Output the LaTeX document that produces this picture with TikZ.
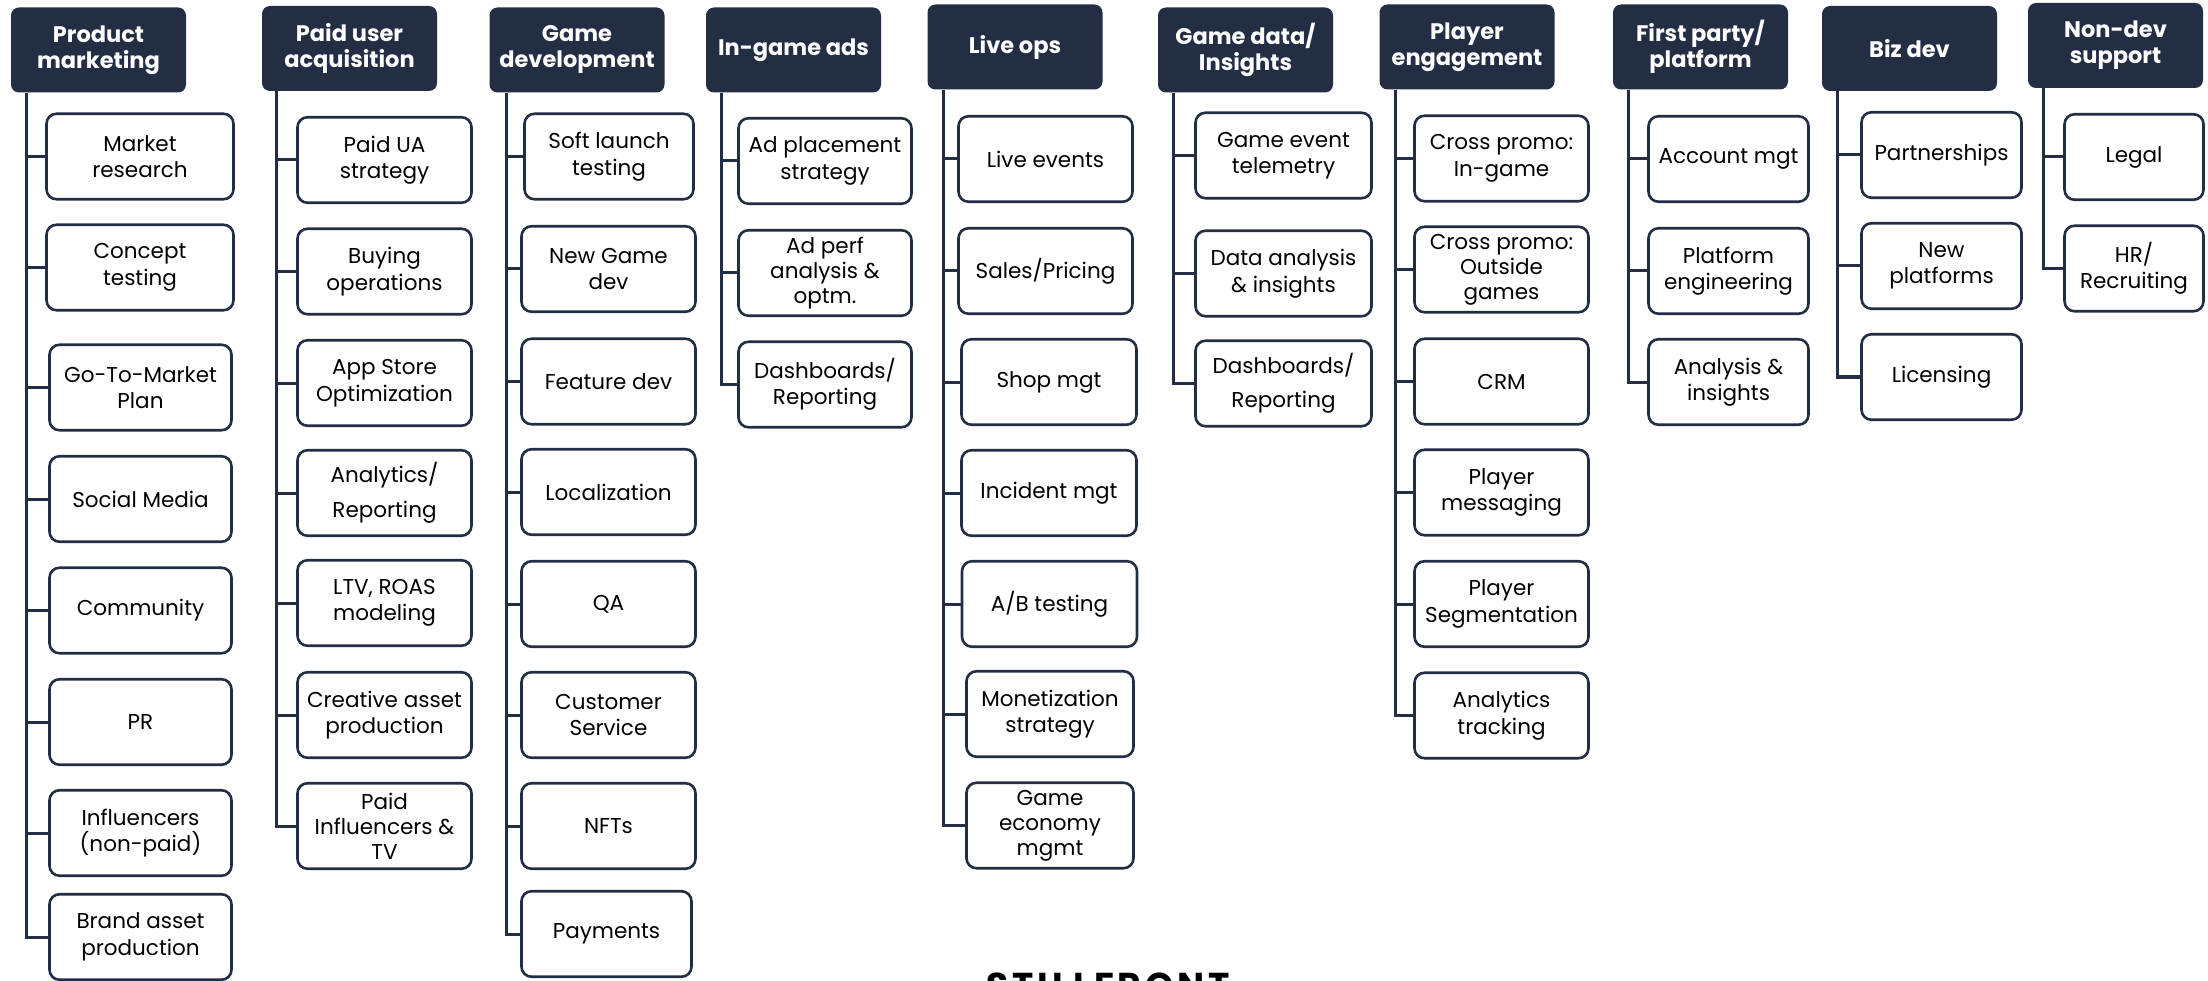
\documentclass[tikz,border=0pt]{standalone}
\usepackage{fontspec}
\setmainfont{Poppins}
\usetikzlibrary{calc}
\definecolor{navy}{HTML}{232E45}

\tikzset{
  x=1pt, y=-1pt,
  hdr/.style={fill=navy, draw=none, rounded corners=8pt, text=white,
    font=\bfseries\fontsize{22.5}{26}\selectfont, align=center, inner sep=0pt,
    minimum width=175pt, minimum height=85pt},
  kid/.style={draw=navy, line width=2.6pt, fill=white, rounded corners=10pt,
    text=black, font=\fontsize{21.5}{26.5}\selectfont, align=center,
    inner sep=0pt, minimum height=85.5pt},
  conn/.style={draw=navy, line width=3pt},
}

\begin{document}
\begin{tikzpicture}
\useasboundingbox (0,0) rectangle (2208,981);
\fill[white] (0,0) rectangle (2208,981);

% ---- headers ----
\node[hdr] (h1)  at (98.5,50)   {Product\\marketing};
\node[hdr] (h2)  at (349.5,48.5){Paid user\\acquisition};
\node[hdr] (h3)  at (577,50)    {Game\\development};
\node[hdr] (h4)  at (793.5,50)  {In-game ads};
\node[hdr] (h5)  at (1015,47)   {Live ops};
\node[hdr] (h6)  at (1245.5,50) {Game data/\\Insights};
\node[hdr] (h7)  at (1467,47)   {Player\\engagement};
\node[hdr] (h8)  at (1700.5,47) {First party/\\platform};
\node[hdr] (h9)  at (1909.5,48.5){Biz dev};
\node[hdr] (h10) at (2115.5,45.5){Non-dev\\support};

% ---- Product marketing ----
\node[kid, minimum width=187pt] (a1) at (140,156.5) {Market\\research};
\node[kid, minimum width=187pt] (a2) at (140,267.5) {Concept\\testing};
\node[kid, minimum width=182pt] (a3) at (140.5,387.5) {Go-To-Market\\Plan};
\node[kid, minimum width=182pt] (a4) at (140.5,499) {Social Media};
\node[kid, minimum width=182pt] (a5) at (140.5,610.5) {Community};
\node[kid, minimum width=182pt] (a6) at (140.5,722) {PR};
\node[kid, minimum width=182pt] (a7) at (140.5,833) {Influencers\\(non-paid)};
\node[kid, minimum width=182pt] (a8) at (140.5,937) {Brand asset\\production};

% ---- Paid user acquisition ----
\node[kid, minimum width=174pt] (b1) at (384.5,160) {Paid UA\\strategy};
\node[kid, minimum width=174pt] (b2) at (384.5,271.5) {Buying\\operations};
\node[kid, minimum width=174pt] (b3) at (384.5,383) {App Store\\Optimization};
\node[kid, minimum width=174pt] (b4) at (384.5,493) {Analytics/\\[8pt]Reporting};
\node[kid, minimum width=174pt] (b5) at (384.5,603) {LTV, ROAS\\modeling};
\node[kid, minimum width=174pt] (b6) at (384.5,715) {Creative asset\\production};
\node[kid, minimum width=174pt] (b7) at (384.5,826) {Paid\\[-1.5pt]Influencers \&\\[-1.5pt]TV};

% ---- Game development ----
\node[kid, minimum width=169pt] (c1) at (609,156.5) {Soft launch\\testing};
\node[kid, minimum width=174pt] (c2) at (608.5,269) {New Game\\dev};
\node[kid, minimum width=174pt] (c3) at (608.5,381.5) {Feature dev};
\node[kid, minimum width=174pt] (c4) at (608.5,492) {Localization};
\node[kid, minimum width=174pt] (c5) at (608.5,604) {QA};
\node[kid, minimum width=174pt] (c6) at (608.5,715) {Customer\\Service};
\node[kid, minimum width=174pt] (c7) at (608.5,826) {NFTs};
\node[kid, minimum width=170pt] (c8) at (606.5,934) {Payments};

% ---- In-game ads ----
\node[kid, minimum width=173pt] (d1) at (825,161) {Ad placement\\strategy};
\node[kid, minimum width=173pt] (d2) at (825,273) {Ad perf\\[-1.5pt]analysis \&\\[-1.5pt]optm.};
\node[kid, minimum width=173pt] (d3) at (825,384.5) {Dashboards/\\Reporting};

% ---- Live ops ----
\node[kid, minimum width=174pt] (e1) at (1045.5,159) {Live events};
\node[kid, minimum width=174pt] (e2) at (1045.5,271) {Sales/Pricing};
\node[kid, minimum width=175pt] (e3) at (1049,382) {Shop mgt};
\node[kid, minimum width=175pt] (e4) at (1049,493) {Incident mgt};
\node[kid, minimum width=175pt] (e5) at (1049.5,604) {A/B testing};
\node[kid, minimum width=167pt] (e6) at (1050,714) {Monetization\\strategy};
\node[kid, minimum width=167pt] (e7) at (1050,825.5) {Game\\[-1.5pt]economy\\[-1.5pt]mgmt};

% ---- Game data / Insights ----
\node[kid, minimum width=176pt] (f1) at (1283.5,155.5) {Game event\\telemetry};
\node[kid, minimum width=176pt] (f2) at (1283.5,273.5) {Data analysis\\\& insights};
\node[kid, minimum width=176pt] (f3) at (1283.5,383.5) {Dashboards/\\[8pt]Reporting};

% ---- Player engagement ----
\node[kid, minimum width=174pt] (g1) at (1501.5,158.5) {Cross promo:\\In-game};
\node[kid, minimum width=174pt] (g2) at (1501.5,269.5) {Cross promo:\\[-1.5pt]Outside\\[-1.5pt]games};
\node[kid, minimum width=174pt] (g3) at (1501.5,381.5) {CRM};
\node[kid, minimum width=174pt] (g4) at (1501.5,492.5) {Player\\messaging};
\node[kid, minimum width=174pt] (g5) at (1501.5,604) {Player\\Segmentation};
\node[kid, minimum width=174pt] (g6) at (1501.5,715.5) {Analytics\\tracking};

% ---- First party / platform ----
\node[kid, minimum width=160pt] (k1) at (1728.5,159) {Account mgt};
\node[kid, minimum width=160pt] (k2) at (1728.5,271) {Platform\\engineering};
\node[kid, minimum width=160pt] (k3) at (1728.5,382) {Analysis \&\\insights};

% ---- Biz dev ----
\node[kid, minimum width=160pt] (l1) at (1941.5,155) {Partnerships};
\node[kid, minimum width=160pt] (l2) at (1941.5,266) {New\\platforms};
\node[kid, minimum width=160pt] (l3) at (1941.5,377) {Licensing};

% ---- Non-dev support ----
\node[kid, minimum width=139pt] (n1) at (2134,157) {Legal};
\node[kid, minimum width=139pt] (n2) at (2134,268.5) {HR/\\Recruiting};

% ---- connectors: trunk from each header, branch to every box ----
\coordinate (t1)  at ($(h1.south west)+(16,0)$);
\coordinate (t2)  at ($(h2.south west)+(15,0)$);
\coordinate (t3)  at ($(h3.south west)+(17,0)$);
\coordinate (t4)  at ($(h4.south west)+(16,0)$);
\coordinate (t5)  at ($(h5.south west)+(16,0)$);
\coordinate (t6)  at ($(h6.south west)+(16,0)$);
\coordinate (t7)  at ($(h7.south west)+(16,0)$);
\coordinate (t8)  at ($(h8.south west)+(16,0)$);
\coordinate (t9)  at ($(h9.south west)+(16,0)$);
\coordinate (t10) at ($(h10.south west)+(16,0)$);

\draw[conn] (t1) |- (a8.west);
\foreach \k in {a1,a2,a3,a4,a5,a6,a7} \draw[conn] (t1 |- \k.west) -- (\k.west);
\draw[conn] (t2) |- (b7.west);
\foreach \k in {b1,b2,b3,b4,b5,b6} \draw[conn] (t2 |- \k.west) -- (\k.west);
\draw[conn] (t3) |- (c8.west);
\foreach \k in {c1,c2,c3,c4,c5,c6,c7} \draw[conn] (t3 |- \k.west) -- (\k.west);
\draw[conn] (t4) |- (d3.west);
\foreach \k in {d1,d2} \draw[conn] (t4 |- \k.west) -- (\k.west);
\draw[conn] (t5) |- (e7.west);
\foreach \k in {e1,e2,e3,e4,e5,e6} \draw[conn] (t5 |- \k.west) -- (\k.west);
\draw[conn] (t6) |- (f3.west);
\foreach \k in {f1,f2} \draw[conn] (t6 |- \k.west) -- (\k.west);
\draw[conn] (t7) |- (g6.west);
\foreach \k in {g1,g2,g3,g4,g5} \draw[conn] (t7 |- \k.west) -- (\k.west);
\draw[conn] (t8) |- (k3.west);
\foreach \k in {k1,k2} \draw[conn] (t8 |- \k.west) -- (\k.west);
\draw[conn] (t9) |- (l3.west);
\foreach \k in {l1,l2} \draw[conn] (t9 |- \k.west) -- (\k.west);
\draw[conn] (t10) |- (n2.west);
\draw[conn] (t10 |- n1.west) -- (n1.west);

% ---- logo text at the foot ----
\node[anchor=base, inner sep=0pt, text=black,
  font=\bfseries\fontsize{36}{38}\selectfont\addfontfeatures{LetterSpace=11}]
  (brand) at (1108,998) {STILLFRONT};
\end{tikzpicture}
\end{document}
